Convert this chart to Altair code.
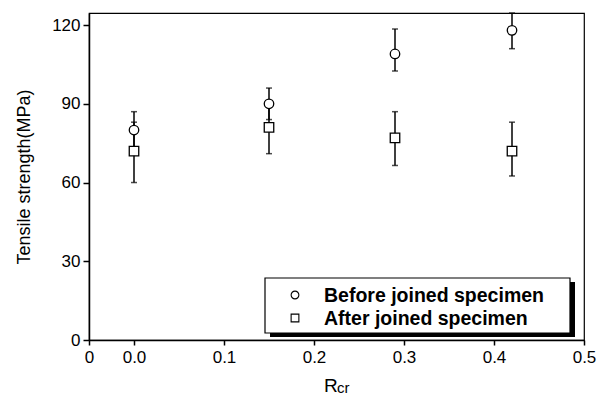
import altair as alt
import pandas as pd

rcr = [0.0, 0.15, 0.29, 0.42]
before_mean = [80, 90, 109, 118]
before_lo = [73, 84, 102.5, 111]
before_hi = [87, 96, 118.5, 124.6]
after_mean = [72, 81, 77, 72]
after_lo = [60, 71, 66.5, 62.5]
after_hi = [83, 91, 87, 83]
series_names = ["Before joined specimen", "After joined specimen"]
series_shapes = ["circle", "square"]
y_ticks = [0, 30, 60, 90, 120]
x_ticks = [-0.05, 0.0, 0.1, 0.2, 0.3, 0.4, 0.5]

rows = []
for i, x in enumerate(rcr):
    rows.append({"x": x, "mean": before_mean[i], "lo": before_lo[i], "hi": before_hi[i], "series": series_names[0]})
    rows.append({"x": x, "mean": after_mean[i], "lo": after_lo[i], "hi": after_hi[i], "series": series_names[1]})
df = pd.DataFrame(rows)

FONT = "Liberation Sans"

xscale = alt.Scale(domain=[-0.05, 0.5], nice=False, zero=False)
yscale = alt.Scale(domain=[0, 124.6], nice=False, zero=True)

xaxis = alt.Axis(values=x_ticks, labelExpr="datum.value < -0.01 ? '0' : format(datum.value, '.1f')",
                 title="", grid=False, tickSize=5, labelPadding=4, labelFlush=False)
yaxis = alt.Axis(values=y_ticks, title="Tensile strength(MPa)", grid=False, tickSize=6, labelPadding=3,
                 titleX=-60, titleY=163.5, titleAngle=270, titleAlign="center", titleBaseline="alphabetic",
                 titleFontSize=18, titleFontWeight="normal", titleFont=FONT, titleColor="black")

base = alt.Chart(df)

rules = base.mark_rule(color="black", strokeWidth=1.5).encode(
    x=alt.X("x:Q", scale=xscale, axis=xaxis),
    y=alt.Y("lo:Q", scale=yscale, axis=yaxis),
    y2="hi:Q",
)
cap_lo = base.mark_tick(orient="horizontal", size=6, thickness=1.5, color="black").encode(
    x=alt.X("x:Q", scale=xscale), y=alt.Y("lo:Q", scale=yscale))
cap_hi = base.mark_tick(orient="horizontal", size=6, thickness=1.5, color="black").encode(
    x=alt.X("x:Q", scale=xscale), y=alt.Y("hi:Q", scale=yscale))

points = base.mark_point(filled=True, fill="white", stroke="black", strokeWidth=1.3, size=90, opacity=1).encode(
    x=alt.X("x:Q", scale=xscale),
    y=alt.Y("mean:Q", scale=yscale),
    shape=alt.Shape("series:N",
                    scale=alt.Scale(domain=series_names, range=series_shapes),
                    legend=None),
)

box_df = pd.DataFrame({"k": [0]})
shadow = alt.Chart(box_df).mark_rect(color="black").encode(
    x=alt.value(181), x2=alt.value(486), y=alt.value(269), y2=alt.value(324))
box = alt.Chart(box_df).mark_rect(fill="white", stroke="black", strokeWidth=1.2).encode(
    x=alt.value(176), x2=alt.value(481), y=alt.value(265), y2=alt.value(320))

legend_layers = []
for i, (name, shp) in enumerate(zip(series_names, series_shapes)):
    yc = 282 + 23 * i
    legend_layers.append(alt.Chart(box_df).mark_point(filled=True, fill="white", stroke="black",
                                                      strokeWidth=1.1, size=60, opacity=1).encode(
        x=alt.value(206), y=alt.value(yc), shape=alt.value(shp)))
    legend_layers.append(alt.Chart(box_df).mark_text(text=name, font=FONT, fontSize=19.5, fontWeight="bold",
                                                     color="black", align="left", baseline="middle").encode(
        x=alt.value(235), y=alt.value(yc + 1)))

r_text = alt.Chart(box_df).mark_text(text="R", font=FONT, fontSize=19, color="black", align="left", baseline="alphabetic").encode(
    x=alt.value(235), y=alt.value(379))
cr_text = alt.Chart(box_df).mark_text(text="cr", font=FONT, fontSize=15, color="black", align="left", baseline="alphabetic").encode(
    x=alt.value(248), y=alt.value(380))

chart = alt.layer(rules, cap_lo, cap_hi, points, shadow, box, *legend_layers, r_text, cr_text).properties(
    width=495, height=327,
    autosize=alt.AutoSizeParams(type="none"),
    padding={"left": 89, "top": 13, "right": 17, "bottom": 58},
    background="white",
).configure_view(stroke="black", strokeWidth=1.2).configure_axis(
    labelFont=FONT, labelFontSize=17, labelColor="black", domainColor="black", domainWidth=1.5,
    tickColor="black", tickWidth=1.5, titleFont=FONT, titleColor="black"
)

chart.save("out.html", embed_options={"renderer": "svg", "actions": False})
